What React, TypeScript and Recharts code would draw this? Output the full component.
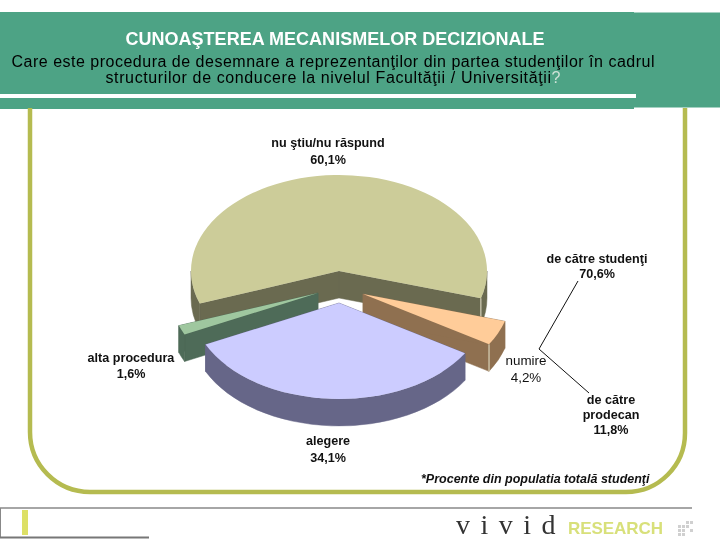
import { Pie, PieChart } from "recharts";

const sliceNames = ["nu ştiu/nu răspund", "alta procedura", "alegere", "numire"];
const sliceValues = [60.1, 1.6, 34.1, 4.2];
const sliceTops = ["#cccc99", "#9fc79f", "#ccccff", "#ffcc99"];
const sliceWalls = ["#6a6a50", "#4e6b58", "#666688", "#8f7050"];

// how far each slice is pulled out of the pie, px
const explodeX = [0, -21, 0, 24];
const explodeY = [0, 22, 32, 23];

const CX = 339;
const CY = 271;
const RX = 148;
const RY = 96;
const DEPTH = 27;

const data = sliceNames.map((name, i) => ({
  name,
  value: sliceValues[i],
  fill: sliceTops[i],
}));

function arcPoint(a: number, ox: number, oy: number) {
  const r = (a * Math.PI) / 180;
  return [ox + RX * Math.cos(r), oy - RY * Math.sin(r)];
}

function slicePath(startAngle: number, endAngle: number, ox: number, oy: number) {
  const [x1, y1] = arcPoint(startAngle, ox, oy);
  const [x2, y2] = arcPoint(endAngle, ox, oy);
  const large = Math.abs(endAngle - startAngle) > 180 ? 1 : 0;
  return `M${ox} ${oy} L${x1} ${y1} A${RX} ${RY} 0 ${large} 0 ${x2} ${y2} Z`;
}

// the extruded side: two cut faces and the band under the part of the arc facing the viewer
function wallPaths(startAngle: number, endAngle: number, ox: number, oy: number) {
  const [x1, y1] = arcPoint(startAngle, ox, oy);
  const [x2, y2] = arcPoint(endAngle, ox, oy);
  const paths = [
    `M${ox} ${oy} L${x1} ${y1} V${y1 + DEPTH} L${ox} ${oy + DEPTH} Z`,
    `M${ox} ${oy} L${x2} ${y2} V${y2 + DEPTH} L${ox} ${oy + DEPTH} Z`,
  ];
  const fronts = [
    [-180, 0],
    [180, 360],
  ];
  fronts.forEach(([lo, hi]) => {
    const a = Math.max(startAngle, lo);
    const b = Math.min(endAngle, hi);
    if (b <= a) return;
    const [ax, ay] = arcPoint(a, ox, oy);
    const [bx, by] = arcPoint(b, ox, oy);
    paths.push(
      `M${ax} ${ay} A${RX} ${RY} 0 0 0 ${bx} ${by} V${by + DEPTH} A${RX} ${RY} 0 0 1 ${ax} ${ay + DEPTH} Z`
    );
  });
  return paths;
}

function makeShape(show: (name: string) => boolean) {
  return function SliceShape(props: any) {
    const name = props.payload?.name ?? props.name;
    if (!show(name)) return <g />;
    const i = sliceNames.indexOf(name);
    const ox = CX + explodeX[i];
    const oy = CY + explodeY[i];
    const [sx, sy] = arcPoint(props.startAngle, ox, oy);
    // olive and peach slices show a pale edge at their front corner
    const lit = i === 0 || i === 3;
    return (
      <g>
        {wallPaths(props.startAngle, props.endAngle, ox, oy).map((d) => (
          <path key={d} d={d} fill={sliceWalls[i]} stroke={sliceWalls[i]} strokeWidth={0.5} />
        ))}
        <path d={slicePath(props.startAngle, props.endAngle, ox, oy)} fill={sliceTops[i]} />
        {lit && <path d={`M${sx} ${sy} V${sy + DEPTH}`} stroke="#e8e4cc" strokeWidth={1} fill="none" />}
      </g>
    );
  };
}

const backShape = makeShape((n) => n !== "alegere");
const frontShape = makeShape((n) => n === "alegere");

const labels = [
  { x: 328, y: 147, t: "nu ştiu/nu răspund", b: true },
  { x: 328, y: 164, t: "60,1%", b: true },
  { x: 131, y: 362, t: "alta procedura", b: true },
  { x: 131, y: 378, t: "1,6%", b: true },
  { x: 328, y: 445, t: "alegere", b: true },
  { x: 328, y: 462, t: "34,1%", b: true },
  { x: 526, y: 365, t: "numire", b: false },
  { x: 526, y: 382, t: "4,2%", b: false },
  { x: 597, y: 263, t: "de către studenţi", b: true },
  { x: 597, y: 278, t: "70,6%", b: true },
  { x: 611, y: 404, t: "de către", b: true },
  { x: 611, y: 419, t: "prodecan", b: true },
  { x: 611, y: 434, t: "11,8%", b: true },
];

const logoDots = [
  [686, 521], [690, 521],
  [678, 525], [682, 525], [686, 525],
  [678, 529], [682, 529], [690, 529],
  [678, 533], [682, 533],
];

export default function App() {
  return (
    <div style={{ position: "fixed", left: 0, top: 0, width: 720, height: 540 }}>
      <PieChart width={720} height={540} margin={{ top: 0, right: 0, bottom: 0, left: 0 }}>
        <rect x={0} y={12} width={634} height={97} fill="#4da385" />
        <rect x={634} y={12.5} width={86} height={95} fill="#4da385" />
        <rect x={0} y={94} width={636} height={4} fill="#ffffff" />
        <g fontFamily="Liberation Sans" textAnchor="middle">
          <text x={335} y={45} fontSize={18} fontWeight="bold" fill="#ffffff" textLength={419}>
            CUNOAŞTEREA MECANISMELOR DECIZIONALE
          </text>
          <text x={333} y={67} fontSize={16} fill="#000000" textLength={643}>
            Care este procedura de desemnare a reprezentanţilor din partea studenţilor în cadrul
          </text>
          <text x={333} y={83} fontSize={16} fill="#000000" textLength={455}>
            structurilor de conducere la nivelul Facultăţii / Universităţii<tspan fill="#cfe3d8">?</tspan>
          </text>
        </g>
        <path
          d="M30 108 V432 A60 60 0 0 0 90 492 H626 A59 59 0 0 0 685 433 V108"
          fill="none"
          stroke="#b5bb50"
          strokeWidth={4.5}
        />
        <Pie
          data={data}
          dataKey="value"
          nameKey="name"
          cx={CX}
          cy={CY}
          outerRadius={RX}
          startAngle={-16.5}
          endAngle={343.5}
          stroke="none"
          isAnimationActive={false}
          shape={backShape}
        />
        <Pie
          data={data}
          dataKey="value"
          nameKey="name"
          cx={CX}
          cy={CY}
          outerRadius={RX}
          startAngle={-16.5}
          endAngle={343.5}
          stroke="none"
          isAnimationActive={false}
          shape={frontShape}
        />
        <g fontFamily="Liberation Sans" textAnchor="middle" fill="#111111">
          {labels.map((l) => (
            <text key={l.t} x={l.x} y={l.y} fontSize={l.b ? 12.6 : 13.4} fontWeight={l.b ? "bold" : "normal"}>
              {l.t}
            </text>
          ))}
        </g>
        <text
          x={421}
          y={483}
          fontFamily="Liberation Sans"
          fontSize={12.5}
          fontWeight="bold"
          fontStyle="italic"
          fill="#111111"
        >
          *Procente din populatia totală studenţi
        </text>
        <path d="M578 281 L539 349 L589 393" fill="none" stroke="#111111" strokeWidth={1} />
        <path d="M0 508 H692" stroke="#888888" strokeWidth={1.5} fill="none" />
        <path d="M0.5 508 V537" stroke="#888888" strokeWidth={1} fill="none" />
        <path d="M0 537.5 H149" stroke="#777777" strokeWidth={2} fill="none" />
        <rect x={22} y={510} width={6} height={25} fill="#dde066" />
        <text x={456} y={534} fontFamily="Liberation Serif" fontSize={28} fill="#333333" letterSpacing={10.5}>
          vivid
        </text>
        <text
          x={568}
          y={534}
          fontFamily="Liberation Sans"
          fontSize={17}
          fontWeight="bold"
          fill="#d8e07a"
          textLength={95}
        >
          RESEARCH
        </text>
        {logoDots.map(([x, y]) => (
          <rect key={`${x}-${y}`} x={x} y={y} width={3} height={3} fill="#d0d0d0" />
        ))}
      </PieChart>
    </div>
  );
}
